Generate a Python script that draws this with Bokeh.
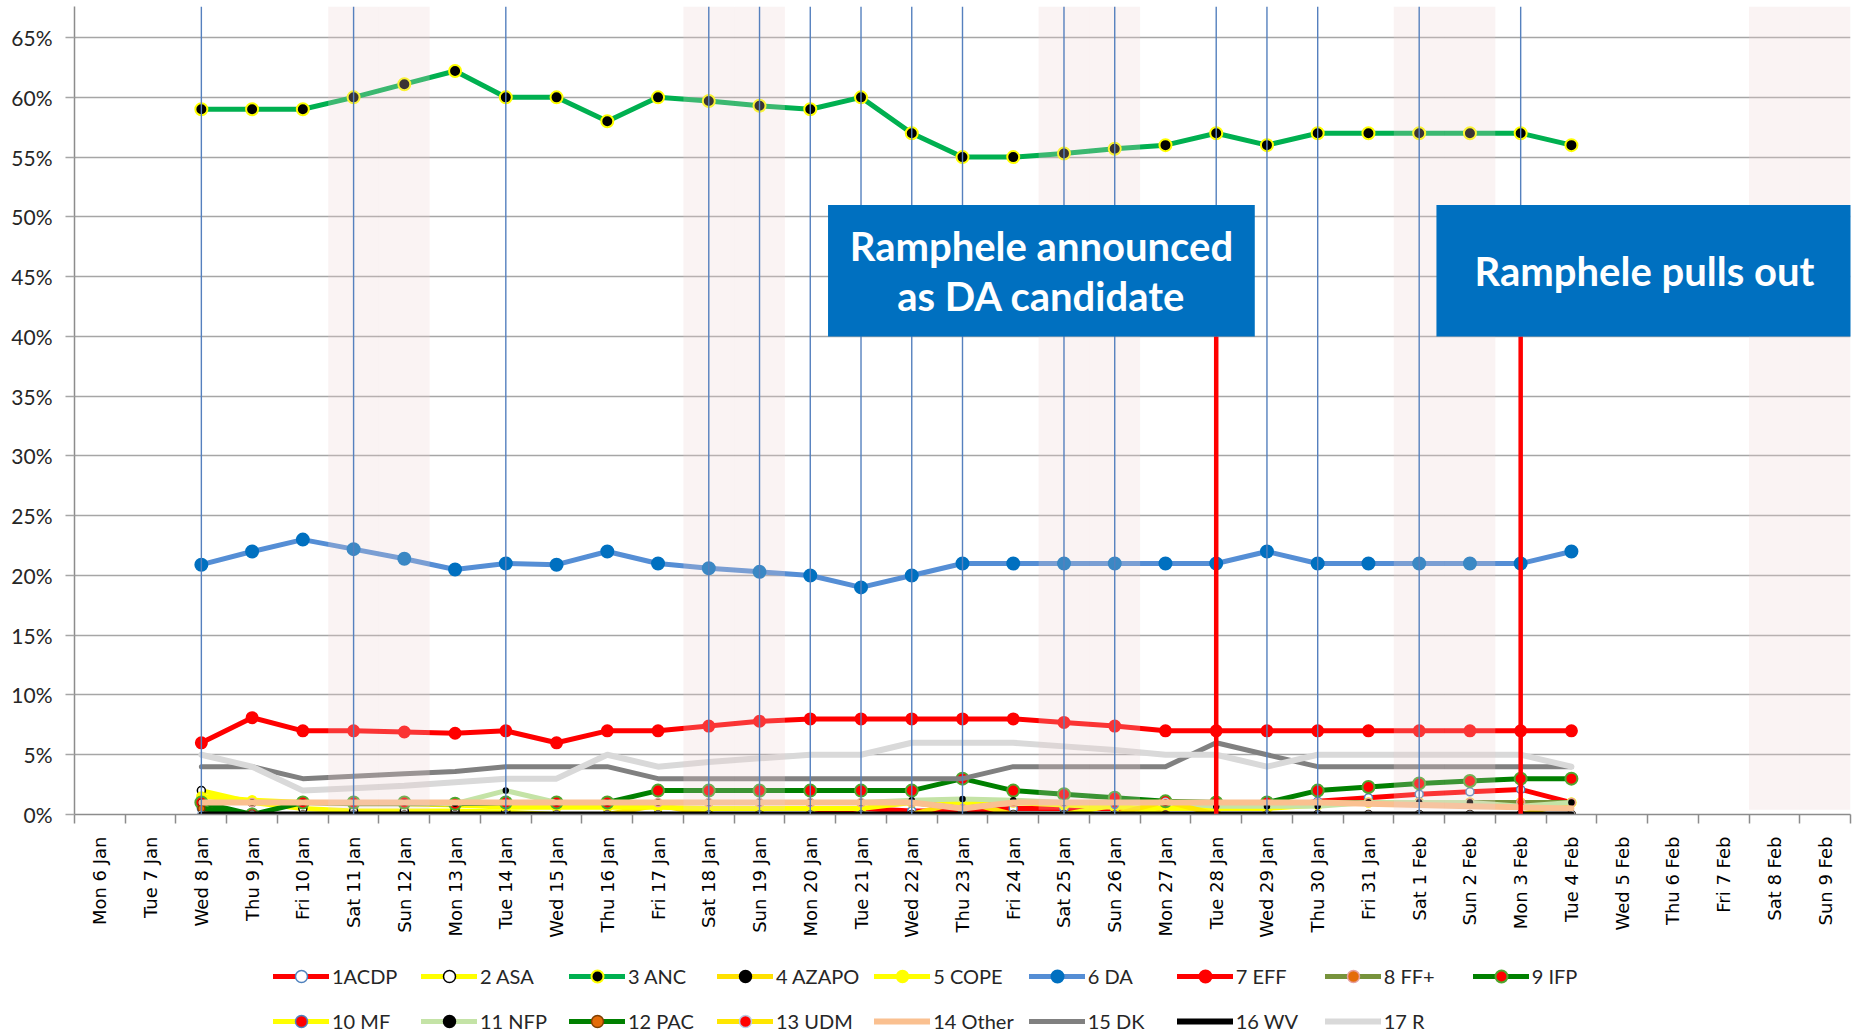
import math
from bokeh.plotting import figure
from bokeh.layouts import column
from bokeh.models import FixedTicker, PrintfTickFormatter, Legend, LegendItem, ColumnDataSource
from bokeh.core.properties import value
from bokeh.embed import file_html
from bokeh.resources import INLINE

# ---------------- data ----------------
days = ["Mon 6 Jan", "Tue 7 Jan", "Wed 8 Jan", "Thu 9 Jan", "Fri 10 Jan", "Sat 11 Jan", "Sun 12 Jan",
        "Mon 13 Jan", "Tue 14 Jan", "Wed 15 Jan", "Thu 16 Jan", "Fri 17 Jan", "Sat 18 Jan", "Sun 19 Jan",
        "Mon 20 Jan", "Tue 21 Jan", "Wed 22 Jan", "Thu 23 Jan", "Fri 24 Jan", "Sat 25 Jan", "Sun 26 Jan",
        "Mon 27 Jan", "Tue 28 Jan", "Wed 29 Jan", "Thu 30 Jan", "Fri 31 Jan", "Sat 1 Feb", "Sun 2 Feb",
        "Mon 3 Feb", "Tue 4 Feb", "Wed 5 Feb", "Thu 6 Feb", "Fri 7 Feb", "Sat 8 Feb", "Sun 9 Feb"]

poll_days = ["Wed 8 Jan", "Thu 9 Jan", "Fri 10 Jan", "Sat 11 Jan", "Sun 12 Jan", "Mon 13 Jan", "Tue 14 Jan",
             "Wed 15 Jan", "Thu 16 Jan", "Fri 17 Jan", "Sat 18 Jan", "Sun 19 Jan", "Mon 20 Jan", "Tue 21 Jan",
             "Wed 22 Jan", "Thu 23 Jan", "Fri 24 Jan", "Sat 25 Jan", "Sun 26 Jan", "Mon 27 Jan", "Tue 28 Jan",
             "Wed 29 Jan", "Thu 30 Jan", "Fri 31 Jan", "Sat 1 Feb", "Sun 2 Feb", "Mon 3 Feb", "Tue 4 Feb"]

acdp = [0.5, 0, 0, 0, 0, 0, 0, 0, 0, 0, 0, 0, 0, 0.5, 0.3, 0.3, 0.5, 0.5, 0.5, 0.5, 0.5, 0.5, 1.1, 1.4, 1.7, 1.9, 2.1, 1.0]
asa = [2.0, 1.0, 0.5, 0.3, 0.3, 0.3, 0.2, 0, 0, 0, 0, 0, 0, 0, 0, 0, 0, 0, 0, 0, 0, 0, 0, 0, 0, 0, 0, 0]
anc = [59, 59, 59, 60, 61.1, 62.2, 60, 60, 58, 60, 59.7, 59.3, 59, 60, 57, 55, 55, 55.3, 55.7, 56, 57, 56, 57, 57, 57, 57, 57, 56]
azapo = [0, 0, 0, 0, 0, 0, 0, 0, 0, 0.8, 0, 0, 0, 0, 0, 1.1, 0, 0, 0, 0, 0, 0, 0, 0, 0, 0, 0, 1.0]
cope = [1.5, 1.2, 1, 1, 0.9, 0.8, 0.6, 0.6, 0.6, 0.6, 0.5, 0.5, 0.5, 0.5, 1, 1, 1, 0.8, 0.6, 0.5, 0.5, 0.5, 0.8, 1, 1, 1, 1, 1]
da = [20.9, 22, 23, 22.2, 21.4, 20.5, 21, 20.9, 22, 21, 20.6, 20.3, 20, 19, 20, 21, 21, 21, 21, 21, 21, 22, 21, 21, 21, 21, 21, 22]
eff = [6, 8.1, 7, 7, 6.9, 6.8, 7, 6, 7, 7, 7.4, 7.8, 8, 8, 8, 8, 8, 7.7, 7.4, 7, 7, 7, 7, 7, 7, 7, 7, 7]
ffplus = [1, 1, 1, 0.9, 0.9, 0.9, 1, 1, 1, 1, 1, 1, 1, 1, 1, 0.5, 1, 1, 1, 1, 1, 1, 1, 1, 1, 1, 1, 1]
ifp = [1, 0, 1, 1, 1, 0.9, 1, 1, 1, 2, 2, 2, 2, 2, 2, 3, 2, 1.7, 1.4, 1.1, 1, 1, 2, 2.3, 2.6, 2.8, 3, 3]
mf = [0, 0, 0, 0, 0, 0, 0, 0, 0, 0, 0, 0, 0, 0, 0, 0, 0, 0, 0.8, 0, 0, 0, 0, 0, 0, 0, 0, 0]
nfp = [1, 1, 1, 1, 1, 0.9, 2, 1, 1, 1, 1, 1, 1, 1, 1.2, 1.3, 1.2, 1, 1, 1, 0.7, 0.7, 0.7, 1, 1, 1, 0.7, 1]
pac = [0.5, 0, 0, 0, 0, 0, 0, 0, 0, 0, 0, 0, 0, 0, 0, 0, 0, 0, 0, 0, 0, 0, 0, 0, 0, 0, 0, 0]
udm = [0, 0, 0, 0, 0, 0, 0, 0, 0, 0, 0, 0, 0, 0, 0, 0, 0, 0, 0, 1.1, 0, 0, 0, 0, 0, 0, 0, 0]
other = [1, 1, 1, 1, 1, 1, 1, 1, 1, 1, 1, 1, 1, 1, 1, 0.5, 1, 1, 1, 1, 1, 1, 1, 0.9, 0.8, 0.7, 0.6, 0.5]
dk = [4, 4, 3, 3.2, 3.4, 3.6, 4, 4, 4, 3, 3, 3, 3, 3, 3, 3, 4, 4, 4, 4, 6, 5, 4, 4, 4, 4, 4, 4]
wv = [0, 0, 0, 0, 0, 0, 0, 0, 0, 0, 0, 0, 0, 0, 0, 0, 0, 0, 0, 0, 0, 0, 0, 0, 0, 0, 0, 0]
rr = [5, 4, 2, 2.2, 2.4, 2.7, 3, 3, 5, 4, 4.4, 4.7, 5, 5, 6, 6, 6, 5.7, 5.4, 5, 5, 4, 5, 5, 5, 5, 5, 4]

series_names = ["1ACDP", "2 ASA", "3 ANC", "4 AZAPO", "5 COPE", "6 DA", "7 EFF", "8 FF+", "9 IFP",
                "10 MF", "11 NFP", "12 PAC", "13 UDM", "14 Other", "15 DK", "16 WV", "17 R"]
series_values = [acdp, asa, anc, azapo, cope, da, eff, ffplus, ifp, mf, nfp, pac, udm, other, dk, wv, rr]

y_ticks = [0, 5, 10, 15, 20, 25, 30, 35, 40, 45, 50, 55, 60, 65]
marked_days = ["Wed 8 Jan", "Sat 11 Jan", "Tue 14 Jan", "Sat 18 Jan", "Sun 19 Jan", "Mon 20 Jan",
               "Tue 21 Jan", "Wed 22 Jan", "Thu 23 Jan", "Sat 25 Jan", "Sun 26 Jan", "Tue 28 Jan",
               "Wed 29 Jan", "Thu 30 Jan", "Sat 1 Feb", "Mon 3 Feb"]
event_days = ["Tue 28 Jan", "Mon 3 Feb"]
event_texts = [["Ramphele announced", "as DA candidate"], ["Ramphele pulls out"]]

# ---------------- styles ----------------
# (line colour, line width, marker fill, marker outline, marker size)
styles = {
    "1ACDP":   ("#FF0000", 5, "#FFFFFF", "#4F81BD", 8),
    "2 ASA":   ("#FFFF00", 5, "#FFFFFF", "#000000", 8),
    "3 ANC":   ("#00B050", 5, "#000000", "#FFFF00", 12),
    "4 AZAPO": ("#FFE100", 5, "#000000", "#000000", 5),
    "5 COPE":  ("#FFFF00", 5, "#FFFF00", "#FFFF00", 9),
    "6 DA":    ("#558ED5", 5, "#0070C0", "#0070C0", 12),
    "7 EFF":   ("#FF0000", 5, "#FF0000", "#FF0000", 11),
    "8 FF+":   ("#77933C", 5, "#E46C0A", "#E6A0A0", 8),
    "9 IFP":   ("#008000", 5, "#FF0000", "#4EA72E", 12),
    "10 MF":   ("#FFFF00", 5, "#FF0000", "#4F81BD", 7),
    "11 NFP":  ("#C4E3A6", 5, "#000000", "#000000", 5),
    "12 PAC":  ("#008000", 5, "#E46C0A", "#7F3F00", 7),
    "13 UDM":  ("#FFE600", 5, "#FF0000", "#B9CDE5", 6),
    "14 Other": ("#FAC090", 6, None, None, 0),
    "15 DK":   ("#808080", 5, None, None, 0),
    "16 WV":   ("#000000", 6, None, None, 0),
    "17 R":    ("#D9D9D9", 6, None, None, 0),
}

W, H_MAIN, H_LEG = 1853, 946, 90
Y_TOP = 67.6
idx = {d: i for i, d in enumerate(days)}
xs = [idx[d] for d in poll_days]

p = figure(width=W, height=H_MAIN, x_range=(-0.5, len(days) - 0.5), y_range=(0, Y_TOP),
           output_backend="svg", toolbar_location=None,
           min_border_left=74, min_border_right=3, min_border_top=6, min_border_bottom=132)
p.outline_line_color = None
p.background_fill_color = "white"

# grid / axes
p.xgrid.visible = False
p.ygrid.grid_line_color = "#A6A6A6"
p.ygrid.grid_line_width = 1.5
p.yaxis.ticker = FixedTicker(ticks=y_ticks)
p.yaxis.formatter = PrintfTickFormatter(format="%d%%")
p.yaxis.axis_line_color = "#8C8C8C"
p.yaxis.axis_line_width = 1.5
p.yaxis.major_tick_line_color = "#A6A6A6"
p.yaxis.major_tick_line_width = 1.5
p.yaxis.major_tick_out = 9
p.yaxis.major_tick_in = 0
p.yaxis.minor_tick_line_color = None
p.yaxis.major_label_text_font = "Lato"
p.yaxis.major_label_text_font_size = "21px"
p.yaxis.major_label_text_color = "#262626"
p.yaxis.major_label_standoff = 13

p.xaxis.ticker = FixedTicker(ticks=list(range(len(days))),
                             minor_ticks=[i - 0.5 for i in range(len(days) + 1)])
p.xaxis.major_label_overrides = {i: d for i, d in enumerate(days)}
p.xaxis.major_label_orientation = math.pi / 2
p.xaxis.major_tick_out = 0
p.xaxis.major_tick_in = 0
p.xaxis.minor_tick_out = 9
p.xaxis.minor_tick_in = 0
p.xaxis.minor_tick_line_color = "#8C8C8C"
p.xaxis.minor_tick_line_width = 1.5
p.xaxis.axis_line_color = "#8C8C8C"
p.xaxis.axis_line_width = 1.5
p.xaxis.major_label_text_font = "DejaVu Sans"
p.xaxis.major_label_text_font_size = "18px"
p.xaxis.major_label_text_color = "#000000"
p.xaxis.major_label_standoff = 13

# legend strip: a companion figure whose own (hidden) copies of the series feed the legend
pl = figure(width=W, height=H_LEG, x_range=(-0.5, len(days) - 0.5), y_range=(0, Y_TOP),
            output_backend="svg", toolbar_location=None, x_axis_location=None, y_axis_location=None,
            min_border=0)
pl.outline_line_color = None
pl.grid.visible = False


def draw_series(fig, name, vals, visible=True):
    lc, lw, mfill, mline, msize = styles[name]
    src = ColumnDataSource(dict(x=xs, y=vals))
    rends = [fig.line("x", "y", source=src, line_color=lc, line_width=lw, line_join="round",
                      line_cap="round", visible=visible)]
    if msize:
        rends.append(fig.scatter("x", "y", source=src, marker="circle", size=msize, fill_color=mfill,
                                 line_color=mline, line_width=2 if msize >= 11 else 1.5, visible=visible))
    return rends


items = []
for name, vals in zip(series_names, series_values):
    draw_series(p, name, vals)
    items.append(LegendItem(label=name, renderers=draw_series(pl, name, vals, visible=False)))

# weekend bands (translucent overlay)
weekend = [idx[d] for d in days if d.startswith(("Sat", "Sun"))]
p.vbar(x=weekend, width=1, bottom=0.4, top=Y_TOP, fill_color=(236, 208, 208), fill_alpha=0.25, line_color=None)

# vertical blue lines on marked days
mx = [idx[d] for d in marked_days]
p.segment(x0=mx, x1=mx, y0=[0] * len(mx), y1=[Y_TOP] * len(mx), line_color="#5580BE", line_width=1.4)

# event lines, boxes and texts
BOX_BOTTOM, BOX_TOP = 40, 51
ex = [idx[d] for d in event_days]
p.segment(x0=ex, x1=ex, y0=[0] * len(ex), y1=[BOX_BOTTOM] * len(ex), line_color="#FF0000", line_width=4.5)

box_left = [ex[0] - 7.65, ex[1] - 1.66]
box_right = [ex[0] + 0.76, ex[1] + 7.2]
p.quad(left=box_left, right=box_right, bottom=[BOX_BOTTOM] * 2, top=[BOX_TOP] * 2,
       fill_color="#0070C0", line_color=None)

tx, ty, tt = [], [], []
for (l, r), lines in zip(zip(box_left, [box_right[0], ex[1] + 6.54]), event_texts):
    c = (l + r) / 2
    mid = (BOX_BOTTOM + BOX_TOP) / 2
    n = len(lines)
    for k, t in enumerate(lines):
        tx.append(c)
        ty.append(mid + (n - 1) * 2.1 - k * 4.2)
        tt.append(t)
p.text(x=tx, y=ty, text=tt, text_font=value("Lato"), text_font_style="bold", text_font_size="40px",
       text_color="white", text_align="center", text_baseline="middle")

legend = Legend(items=items, orientation="horizontal", ncols=9, location=(199, 0),
                glyph_width=56, glyph_height=30, label_height=30, label_width=74, label_standoff=3,
                spacing=15, padding=0, margin=0, border_line_alpha=0, background_fill_alpha=0,
                inactive_fill_alpha=0,
                label_text_font="Lato", label_text_font_size="20px", label_text_color="#262626")
pl.add_layout(legend)

layout = column(p, pl, spacing=0)
open("out.html", "w").write(file_html(layout, INLINE))
